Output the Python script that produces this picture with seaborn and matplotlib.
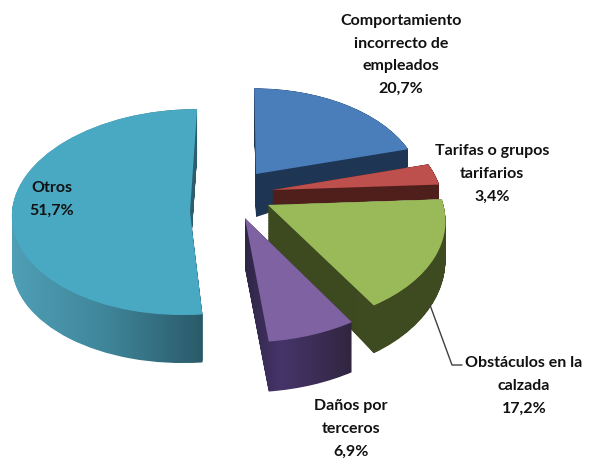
import numpy as np
import matplotlib
matplotlib.use("Agg")
import matplotlib.pyplot as plt
import seaborn as sns
from matplotlib.colors import LinearSegmentedColormap
from matplotlib.path import Path
from matplotlib.patches import PathPatch
from matplotlib.transforms import Transform

# ---- data
labels = ["Comportamiento\nincorrecto de\nempleados", "Tarifas o grupos\ntarifarios",
          "Obstáculos en la\ncalzada", "Daños por\nterceros", "Otros"]
values = [20.7, 3.4, 17.2, 6.9, 51.7]
shown = ["20,7%", "3,4%", "17,2%", "6,9%", "51,7%"]

# ---- styling / layout of the fake 3D view
top_colors = sns.color_palette(["#4a7ebb", "#bd4f4c", "#9aba59", "#7f62a1", "#49a9c3"])
side_colors = [["#1e3654", "#1e3654"], ["#4f1f1c", "#4f1f1c"], ["#3d4a20", "#3f4b21"],
               ["#2f2645", "#46346a", "#3c2d55", "#302640"], ["#4f9fb6", "#3f8599", "#2a5a69"]]
offsets = [(.093, .261), (.182, .098), (.156, -.048), (.027, -.172), (-.281, -.117)]
persp_k = [.13, .13, .13, .13, 0.0]
x_scale = [.95, .96, .98, 1.0, 1.0]
x_shear = [0, 0, 0, 0, .04]
depth_map = [((150, 174), (18, 43)), ((160, 200), (14, 15)), ((205, 307), (37, 48)),
             ((218, 343), (50, 50)), ((108, 312), (48, 48))]
CX, CY, RX, RY = 240, 200, 178, 103


class Persp(Transform):
    input_dims = output_dims = 2
    is_separable = False
    has_inverse = False

    def __init__(self, off, k, sx, sh):
        super().__init__()
        self.off, self.k, self.sx, self.sh = off, k, sx, sh

    def transform_non_affine(self, values):
        p = np.asarray(values, float)
        u = p[:, 0] * self.sx + p[:, 1] * self.sh + self.off[0]
        v = p[:, 1] + self.off[1]
        s = 1 / (1 + self.k * v)
        return np.column_stack([CX + RX * u * s, CY - RY * v * s])


sns.set_theme(style="white")
plt.rcParams["font.family"] = ["Lato", "Liberation Sans", "DejaVu Sans"]
fig = plt.figure(figsize=(5.9, 4.69), dpi=100)
ax = fig.add_axes([0, 0, 1, 1])

wedges, _ = ax.pie(values, colors=top_colors, startangle=90, counterclock=False, radius=1)
ax.set_aspect("auto")
for z, i in enumerate(range(len(values))):
    w = wedges[i]
    tr = Persp(offsets[i], persp_k[i], x_scale[i], x_shear[i])
    w.set_transform(tr + ax.transData)
    w.set_linewidth(0)
    w.set_zorder(2 * z + 2)
    # side wall: the same wedge outline swept downward
    base = tr.transform_path(w.get_path())
    (y0, y1), (d0, d1) = depth_map[i]
    paths = []
    for t in np.linspace(0, 1, 50):
        vv = base.vertices.copy()
        vv[:, 1] += t * np.interp(vv[:, 1], [y0, y1], [d0, d1])
        paths.append(Path(vv, base.codes))
    comp = Path.make_compound_path(*paths)
    bb = comp.get_extents()
    cmap = LinearSegmentedColormap.from_list("side", side_colors[i])
    grad = np.linspace(0, 1, 256)[None, :]
    im = ax.imshow(grad, cmap=cmap, extent=(bb.x0, bb.x1, bb.y1, bb.y0), aspect="auto",
                   zorder=2 * z + 1, interpolation="bilinear")
    clip = PathPatch(comp, transform=ax.transData, facecolor="none", edgecolor="none")
    ax.add_patch(clip)
    im.set_clip_path(clip)

ax.set_xlim(0, 590)
ax.set_ylim(469, 0)
ax.axis("off")

# leader line for the green slice
ax.plot([430, 452, 462], [305, 365, 365], color="#404040", lw=1, zorder=20)

# labels
text_pos = [(401, 55), (492, 174), (524, 386), (351, 429), (52, 199)]
for lab, pct, (x, y) in zip(labels, shown, text_pos):
    ax.text(x, y, lab + "\n" + pct, ha="center", va="center", fontsize=11.5, fontweight="bold",
            color="#111111", linespacing=1.8, zorder=30)

fig.savefig("out.png", dpi=100)
